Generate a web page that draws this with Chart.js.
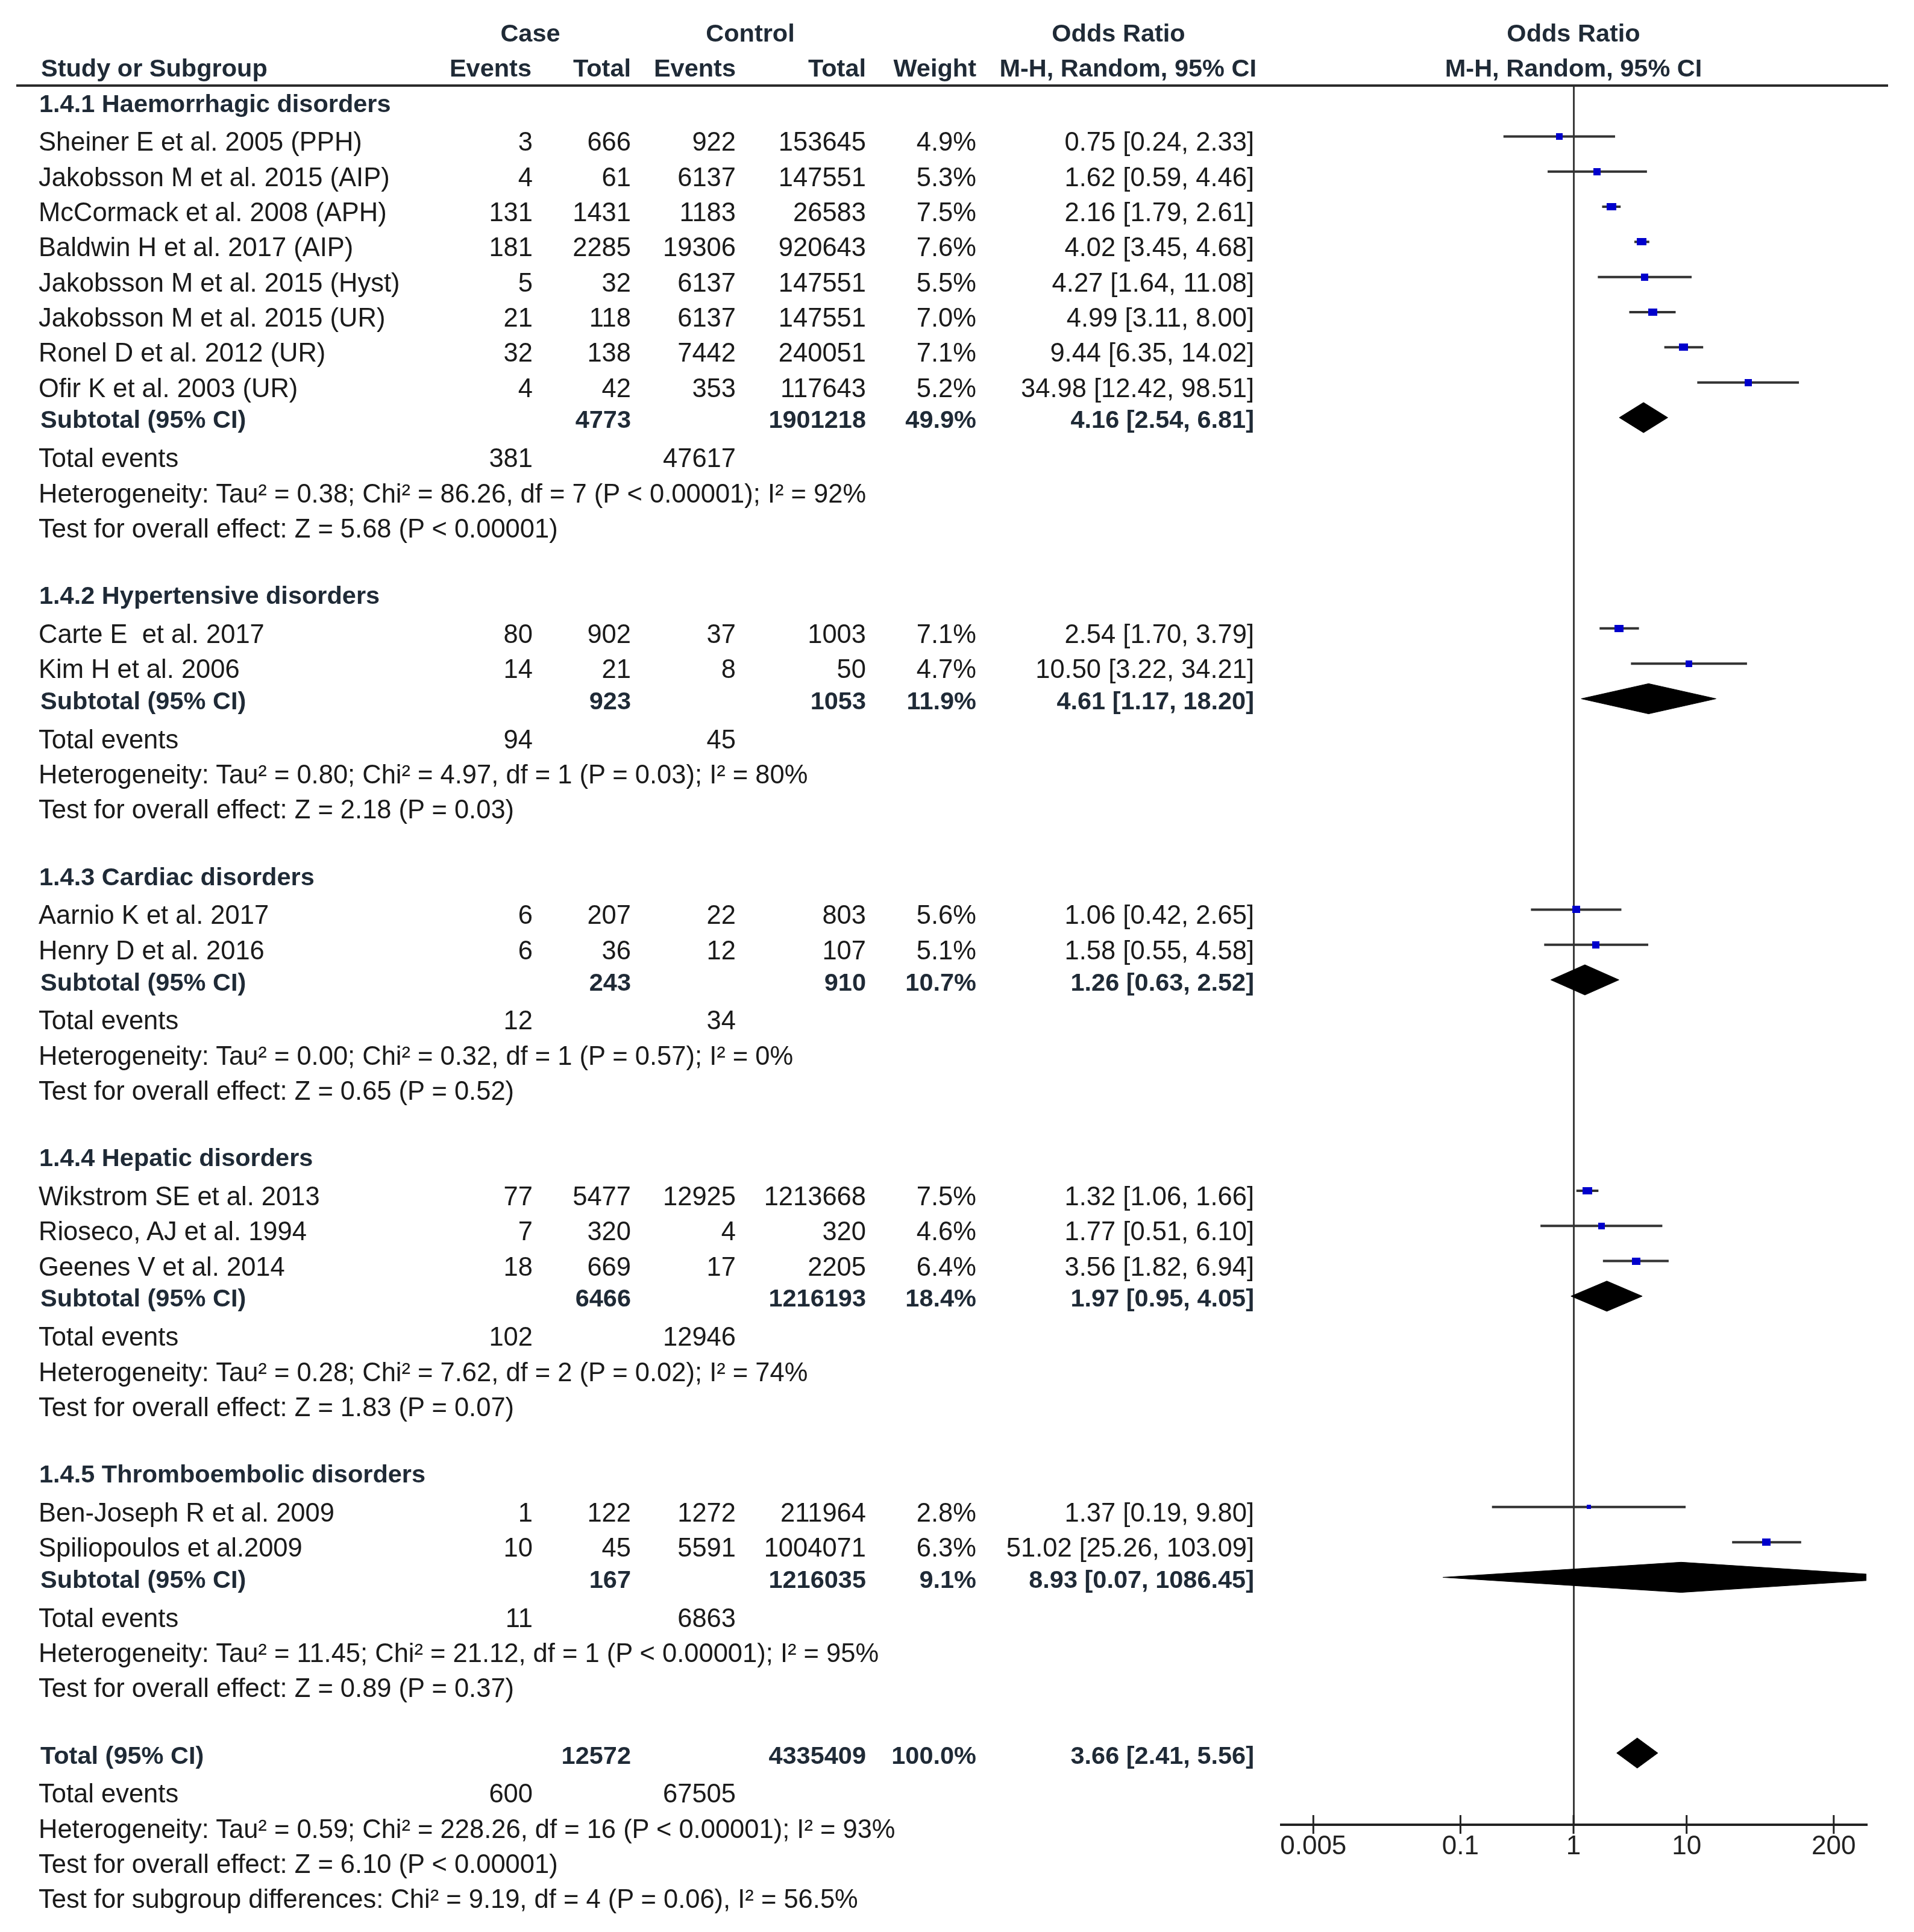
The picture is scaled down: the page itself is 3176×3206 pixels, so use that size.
<!DOCTYPE html>
<html>
<head>
<meta charset="utf-8">
<script src="https://cdn.jsdelivr.net/npm/chart.js@4.4.1/dist/chart.umd.min.js"></script>
<style>
  html, body { margin: 0; padding: 0; background: #fff; }
  #wrap { position: relative; width: 3176px; height: 3206px; overflow: hidden; }
  #forest { position: absolute; left: 0; top: 0; }
  #rule { position: absolute; left: 27px; top: 140px; width: 3106px; height: 4px; background: #2b2b2b; }
  .t { position: absolute; white-space: pre; font-family: "Liberation Sans", Arial, sans-serif;
       font-size: 43.5px; line-height: 43.5px; color: #1a1a1a; transform: translateY(-50%); }
  .t.b { font-weight: bold; font-size: 41.5px; line-height: 41.5px; color: #1f2a36; }
  .t.r { transform: translate(-100%, -50%); }
  .t.c { transform: translate(-50%, -50%); }
</style>
</head>
<body>
<div id="wrap">
  <canvas id="forest" width="3176" height="3206"></canvas>
  <div id="rule"></div>
</div>
<script>
const groupTitles = [
  '1.4.1 Haemorrhagic disorders',
  '1.4.2 Hypertensive disorders',
  '1.4.3 Cardiac disorders',
  '1.4.4 Hepatic disorders',
  '1.4.5 Thromboembolic disorders'
];

const studies = [
  'Sheiner E et al. 2005 (PPH)',
  'Jakobsson M et al. 2015 (AIP)',
  'McCormack et al. 2008 (APH)',
  'Baldwin H et al. 2017 (AIP)',
  'Jakobsson M et al. 2015 (Hyst)',
  'Jakobsson M et al. 2015 (UR)',
  'Ronel D et al. 2012 (UR)',
  'Ofir K et al. 2003 (UR)',
  'Carte E  et al. 2017',
  'Kim H et al. 2006',
  'Aarnio K et al. 2017',
  'Henry D et al. 2016',
  'Wikstrom SE et al. 2013',
  'Rioseco, AJ et al. 1994',
  'Geenes V et al. 2014',
  'Ben-Joseph R et al. 2009',
  'Spiliopoulos et al.2009'
];
const studyGroup = [0, 0, 0, 0, 0, 0, 0, 0, 1, 1, 2, 2, 3, 3, 3, 4, 4];
const caseEvents = [3, 4, 131, 181, 5, 21, 32, 4, 80, 14, 6, 6, 77, 7, 18, 1, 10];
const caseTotals = [666, 61, 1431, 2285, 32, 118, 138, 42, 902, 21, 207, 36, 5477, 320, 669, 122, 45];
const ctrlEvents = [922, 6137, 1183, 19306, 6137, 6137, 7442, 353, 37, 8, 22, 12, 12925, 4, 17, 1272, 5591];
const ctrlTotals = [153645, 147551, 26583, 920643, 147551, 147551, 240051, 117643, 1003, 50, 803, 107, 1213668, 320, 2205, 211964, 1004071];
const weights = [4.9, 5.3, 7.5, 7.6, 5.5, 7.0, 7.1, 5.2, 7.1, 4.7, 5.6, 5.1, 7.5, 4.6, 6.4, 2.8, 6.3];
const oddsRatio = [0.75, 1.62, 2.16, 4.02, 4.27, 4.99, 9.44, 34.98, 2.54, 10.50, 1.06, 1.58, 1.32, 1.77, 3.56, 1.37, 51.02];
const ciLow = [0.24, 0.59, 1.79, 3.45, 1.64, 3.11, 6.35, 12.42, 1.70, 3.22, 0.42, 0.55, 1.06, 0.51, 1.82, 0.19, 25.26];
const ciHigh = [2.33, 4.46, 2.61, 4.68, 11.08, 8.00, 14.02, 98.51, 3.79, 34.21, 2.65, 4.58, 1.66, 6.10, 6.94, 9.80, 103.09];

// five subgroups, then the overall total
const pooledCaseTotal = [4773, 923, 243, 6466, 167, 12572];
const pooledCtrlTotal = [1901218, 1053, 910, 1216193, 1216035, 4335409];
const pooledWeight = [49.9, 11.9, 10.7, 18.4, 9.1, 100.0];
const pooledOR = [4.16, 4.61, 1.26, 1.97, 8.93, 3.66];
const pooledLow = [2.54, 1.17, 0.63, 0.95, 0.07, 2.41];
const pooledHigh = [6.81, 18.20, 2.52, 4.05, 1086.45, 5.56];
const totalCaseEvents = [381, 94, 12, 102, 11, 600];
const totalCtrlEvents = [47617, 45, 34, 12946, 6863, 67505];
const heterogeneity = [
  'Heterogeneity: Tau² = 0.38; Chi² = 86.26, df = 7 (P < 0.00001); I² = 92%',
  'Heterogeneity: Tau² = 0.80; Chi² = 4.97, df = 1 (P = 0.03); I² = 80%',
  'Heterogeneity: Tau² = 0.00; Chi² = 0.32, df = 1 (P = 0.57); I² = 0%',
  'Heterogeneity: Tau² = 0.28; Chi² = 7.62, df = 2 (P = 0.02); I² = 74%',
  'Heterogeneity: Tau² = 11.45; Chi² = 21.12, df = 1 (P < 0.00001); I² = 95%',
  'Heterogeneity: Tau² = 0.59; Chi² = 228.26, df = 16 (P < 0.00001); I² = 93%'
];
const overallEffect = [
  'Test for overall effect: Z = 5.68 (P < 0.00001)',
  'Test for overall effect: Z = 2.18 (P = 0.03)',
  'Test for overall effect: Z = 0.65 (P = 0.52)',
  'Test for overall effect: Z = 1.83 (P = 0.07)',
  'Test for overall effect: Z = 0.89 (P = 0.37)',
  'Test for overall effect: Z = 6.10 (P < 0.00001)'
];
const subgroupTest = 'Test for subgroup differences: Chi² = 9.19, df = 4 (P = 0.06), I² = 56.5%';
const xTicks = [0.005, 0.1, 1, 10, 200];
const xTickLabels = ['0.005', '0.1', '1', '10', '200'];

// row layout: one line per entry, blank line between subgroups
const rows = [];
let r = 0;
groupTitles.forEach((title, g) => {
  rows.push({ r: r++, kind: 'title', g });
  studies.forEach((s, i) => { if (studyGroup[i] === g) rows.push({ r: r++, kind: 'study', i }); });
  rows.push({ r: r++, kind: 'pooled', g });
  rows.push({ r: r++, kind: 'events', g });
  rows.push({ r: r++, kind: 'het', g });
  rows.push({ r: r++, kind: 'test', g });
  r++;
});
rows.push({ r: r++, kind: 'pooled', g: 5 });
rows.push({ r: r++, kind: 'events', g: 5 });
rows.push({ r: r++, kind: 'het', g: 5 });
rows.push({ r: r++, kind: 'test', g: 5 });
rows.push({ r: r++, kind: 'subgroup' });

const studyRow = [];
const pooledRow = [];
rows.forEach(row => {
  if (row.kind === 'study') studyRow[row.i] = row.r;
  if (row.kind === 'pooled') pooledRow[row.g] = row.r;
});

function markerFor(w) {
  const c = document.createElement('canvas');
  const width = Math.round(1.9 * w + 2);
  const height = Math.min(12, width);
  c.width = width;
  c.height = height;
  const g = c.getContext('2d');
  g.fillStyle = '#0000cc';
  g.fillRect(0, 0, width, height);
  return c;
}

const datasets = [];
datasets.push({
  label: 'studies',
  data: studies.map((s, i) => ({ x: oddsRatio[i], y: studyRow[i] })),
  pointStyle: weights.map(markerFor),
  pointRadius: 5,
  showLine: false,
  order: 0
});
studies.forEach((s, i) => {
  datasets.push({
    label: 'ci ' + s,
    data: [{ x: ciLow[i], y: studyRow[i] }, { x: ciHigh[i], y: studyRow[i] }],
    showLine: true,
    borderColor: '#333',
    borderWidth: 4,
    pointRadius: 0,
    order: 2
  });
});
const half = 0.43;
pooledOR.forEach((or, g) => {
  const y = pooledRow[g];
  datasets.push({
    label: 'pooled ' + g,
    data: [
      { x: pooledLow[g], y },
      { x: or, y: y - half },
      { x: pooledHigh[g], y },
      { x: or, y: y + half },
      { x: pooledLow[g], y }
    ],
    showLine: true,
    fill: 'shape',
    backgroundColor: '#000',
    borderColor: '#000',
    borderWidth: 1,
    pointRadius: 0,
    tension: 0,
    order: 1
  });
});

const axisTicks = {
  id: 'axisTicks',
  afterDraw(chart) {
    const { ctx, scales } = chart;
    const y0 = chart.chartArea.bottom;
    ctx.save();
    ctx.strokeStyle = '#222';
    ctx.lineWidth = 3;
    xTicks.forEach(v => {
      const px = scales.x.getPixelForValue(v);
      ctx.beginPath();
      ctx.moveTo(px, y0 - 16);
      ctx.lineTo(px, y0 + 15);
      ctx.stroke();
    });
    ctx.restore();
  }
};

const chart = new Chart(document.getElementById('forest').getContext('2d'), {
  type: 'scatter',
  data: { datasets },
  options: {
    responsive: false,
    animation: false,
    events: [],
    layout: { padding: { left: 2126, right: 79, top: 142, bottom: 78 } },
    scales: {
      x: {
        type: 'logarithmic',
        min: 0.0026,
        max: 389,
        afterBuildTicks: scale => { scale.ticks = xTicks.map(v => ({ value: v })); },
        afterFit: scale => { scale.height = 100; },
        ticks: {
          autoSkip: false,
          maxRotation: 0,
          padding: 2,
          color: '#222',
          font: { family: '"Liberation Sans", Arial, sans-serif', size: 44 },
          callback: (v) => xTickLabels[xTicks.indexOf(v)] ?? ''
        },
        grid: {
          color: c => (c.tick && c.tick.value === 1 ? '#3a3a3a' : 'rgba(0,0,0,0)'),
          lineWidth: 3,
          tickLength: 8,
          tickColor: 'rgba(0,0,0,0)'
        },
        border: { display: true, color: '#222', width: 4 }
      },
      y: {
        type: 'linear',
        display: false,
        reverse: true,
        min: -0.4475,
        max: 49.04
      }
    },
    plugins: {
      legend: { display: false },
      tooltip: { enabled: false }
    }
  },
  plugins: [axisTicks]
});

// table text, placed on the same row scale as the plot
const wrap = document.getElementById('wrap');
function put(text, x, y, cls) {
  const el = document.createElement('div');
  el.className = 't ' + (cls || '');
  el.textContent = text;
  el.style.left = x + 'px';
  el.style.top = y + 'px';
  wrap.appendChild(el);
}

const yScale = chart.scales.y;
const oneX = chart.scales.x.getPixelForValue(1);
const col = { name: 64, bold: 67, caseEv: 884, caseTot: 1047, ctrlEv: 1221, ctrlTot: 1437, weight: 1620, ci: 2081 };
const ciText = (o, lo, hi) => `${o.toFixed(2)} [${lo.toFixed(2)}, ${hi.toFixed(2)}]`;
const yReg = rr => yScale.getPixelForValue(rr) + 10;
const yBold = rr => yScale.getPixelForValue(rr) + 3.5;

// headers
put('Case', 880, yBold(-2), 'b c');
put('Control', 1245, yBold(-2), 'b c');
put('Odds Ratio', 1856, yBold(-2), 'b c');
put('Odds Ratio', oneX, yBold(-2), 'b c');
put('Study or Subgroup', 68, yBold(-1), 'b');
put('Events', 882, yBold(-1), 'b r');
put('Total', col.caseTot, yBold(-1), 'b r');
put('Events', col.ctrlEv, yBold(-1), 'b r');
put('Total', col.ctrlTot, yBold(-1), 'b r');
put('Weight', col.weight, yBold(-1), 'b r');
put('M-H, Random, 95% CI', 2085, yBold(-1), 'b r');
put('M-H, Random, 95% CI', oneX, yBold(-1), 'b c');

rows.forEach(row => {
  const rr = row.r;
  if (row.kind === 'title') {
    put(groupTitles[row.g], 65, yBold(rr), 'b');
  } else if (row.kind === 'study') {
    const i = row.i, y = yReg(rr);
    put(studies[i], col.name, y);
    put(String(caseEvents[i]), col.caseEv, y, 'r');
    put(String(caseTotals[i]), col.caseTot, y, 'r');
    put(String(ctrlEvents[i]), col.ctrlEv, y, 'r');
    put(String(ctrlTotals[i]), col.ctrlTot, y, 'r');
    put(weights[i].toFixed(1) + '%', col.weight, y, 'r');
    put(ciText(oddsRatio[i], ciLow[i], ciHigh[i]), col.ci, y, 'r');
  } else if (row.kind === 'pooled') {
    const g = row.g, y = yBold(rr);
    put(g === 5 ? 'Total (95% CI)' : 'Subtotal (95% CI)', col.bold, y, 'b');
    put(String(pooledCaseTotal[g]), col.caseTot, y, 'b r');
    put(String(pooledCtrlTotal[g]), col.ctrlTot, y, 'b r');
    put(pooledWeight[g].toFixed(1) + '%', col.weight, y, 'b r');
    put(ciText(pooledOR[g], pooledLow[g], pooledHigh[g]), col.ci, y, 'b r');
  } else if (row.kind === 'events') {
    const y = yReg(rr);
    put('Total events', col.name, y);
    put(String(totalCaseEvents[row.g]), col.caseEv, y, 'r');
    put(String(totalCtrlEvents[row.g]), col.ctrlEv, y, 'r');
  } else if (row.kind === 'het') {
    put(heterogeneity[row.g], col.name, yReg(rr));
  } else if (row.kind === 'test') {
    put(overallEffect[row.g], col.name, yReg(rr));
  } else if (row.kind === 'subgroup') {
    put(subgroupTest, col.name, yReg(rr));
  }
});
</script>
</body>
</html>
